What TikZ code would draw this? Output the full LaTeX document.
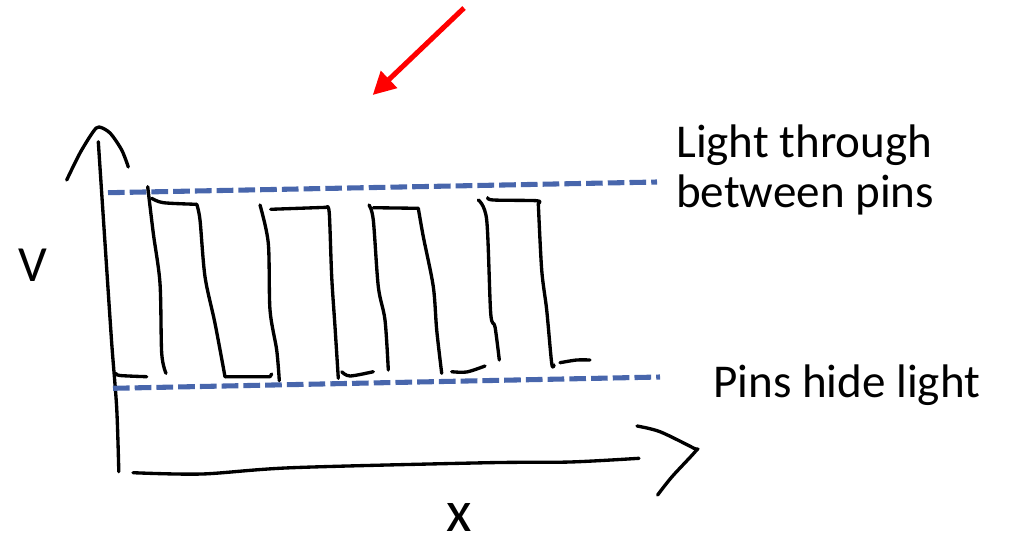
\documentclass[tikz,border=0pt]{standalone}
\usepackage{fontspec}
\setmainfont{Carlito}
\usetikzlibrary{arrows.meta}
\definecolor{levelblue}{RGB}{72,102,172}
\definecolor{pointred}{RGB}{255,0,0}

\begin{document}
\begin{tikzpicture}[x=0.75pt,y=-0.75pt,
  ink/.style={line width=2.5pt, line cap=round, line join=round},
  level/.style={levelblue, line width=3.8pt, dash pattern=on 12.5pt off 3.8pt},
  caption/.style={font=\fontsize{35.3}{42}\selectfont, inner sep=0pt, anchor=base west},
  axislabel/.style={inner sep=0pt}]
\useasboundingbox (0,0) rectangle (1009,550);

% pointer arrow at the top
\coordinate (ptail) at (464,8);
\coordinate (ptip) at (372.7,95);
\draw[pointred, line width=3.8pt, -{Triangle[length=17pt,width=17pt]}] (ptail) -- (ptip);

% vertical axis with its hand-drawn head
\draw[ink] plot[smooth,tension=0.5] coordinates {(98.3,141.7) (105,243) (111.7,343) (116.7,408) (118.8,471.7)};
\draw[ink] plot[smooth,tension=0.5] coordinates {(66.7,180) (80,153) (93,132) (99,127) (110,133) (121.7,150) (128.3,167)};

% horizontal axis with its hand-drawn head
\draw[ink] plot[smooth,tension=0.5] coordinates {(133,472.7) (202,474) (292,467.7) (488,462.7) (570,462) (639,458.3)};
\draw[ink] plot[smooth,tension=0.5] coordinates {(637,426) (660,431.7) (694,448.3) (696,450.7) (672,476.7) (657.6,495)};

% the two signal levels
\coordinate (hiL) at (108,192.7);
\coordinate (hiR) at (657,182);
\coordinate (loL) at (113,388.3);
\coordinate (loR) at (660,377);
\draw[level] (hiL) -- (hiR);
\draw[level] (loL) -- (loR);

% square wave, stroke by stroke
\draw[ink] plot[smooth,tension=0.5] coordinates {(116,373.3) (120,375.5) (146.7,376.7)};
\draw[ink] plot[smooth,tension=0.5] coordinates {(147.7,186.7) (153.3,233.3) (160,283.3) (161.7,353.3) (166,373.3)};
\draw[ink] plot[smooth,tension=0.5] coordinates {(151.7,198.3) (163.3,202.7) (196.7,204.3)};
\draw[ink] plot[smooth,tension=0.5] coordinates {(196.7,204.3) (200,220) (205,276.7) (215,323.3) (225,376.7)};
\draw[ink] (225,376.7) -- (270,376.7) -- (271.7,374);
\draw[ink] plot[smooth,tension=0.5] coordinates {(260,205) (268.3,243.3) (270,310) (276.7,350) (279.3,380.7)};
\draw[ink] (270.7,209.3) -- (326.7,207.3);
\draw[ink] plot[smooth,tension=0.5] coordinates {(326.7,207.3) (329.3,213.3) (331.7,276.7) (335,326.7) (338.3,378.3)};
\draw[ink] plot[smooth,tension=0.5] coordinates {(341.7,371.7) (350,376) (373.3,371.7)};
\draw[ink] plot[smooth,tension=0.5] coordinates {(369,205) (373.3,220) (378.3,286.7) (385,320) (388.3,370)};
\draw[ink] (373.3,207.7) -- (418.3,208.3);
\draw[ink] plot[smooth,tension=0.5] coordinates {(418.3,208.3) (423.3,236.7) (433.3,286.7) (436.7,330) (441.7,373.3)};
\draw[ink] plot[smooth,tension=0.5] coordinates {(451.7,371.7) (466.7,372) (485,366)};
\draw[ink] plot[smooth,tension=0.5] coordinates {(478.3,200) (486.7,220) (490.7,313.3) (495,326.7) (499.3,360)};
\draw[ink] plot[smooth,tension=0.5] coordinates {(487.7,197.7) (493.3,200) (536.7,200.7) (538.3,203.3)};
\draw[ink] plot[smooth,tension=0.5] coordinates {(538.3,203.3) (541.7,270) (546.7,310) (551.7,363.3) (554,365)};
\draw[ink] plot[smooth,tension=0.5] coordinates {(560,362.7) (576.7,360) (590,360)};

% axis names
\node[axislabel, font=\fontsize{38}{38}\selectfont] (vlabel) at (33,265) {V};
\node[axislabel, font=\fontsize{44}{44}\selectfont, anchor=base] (xlabel) at (459,531) {x};

% captions for the two levels
\node[caption] (cap1) at (676,157) {Light through};
\node[caption] (cap2) at (676,207) {between pins};
\node[caption] (cap3) at (713,397) {Pins hide light};
\end{tikzpicture}
\end{document}
